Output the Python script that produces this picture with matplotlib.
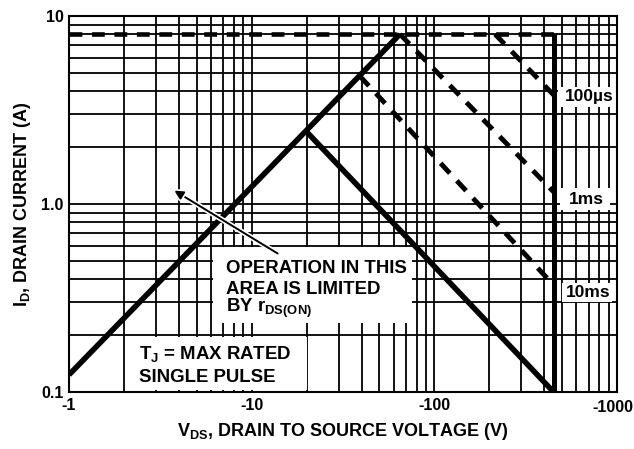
import matplotlib
matplotlib.use("Agg")
import matplotlib.pyplot as plt
import matplotlib.patheffects as pe
from matplotlib.patches import Rectangle

plt.rcParams["font.family"] = ["Liberation Sans", "DejaVu Sans"]
plt.rcParams["font.weight"] = "bold"
plt.rcParams["mathtext.fontset"] = "custom"
plt.rcParams["mathtext.rm"] = "Liberation Sans:bold"
plt.rcParams["mathtext.it"] = "Liberation Sans:bold"
plt.rcParams["mathtext.bf"] = "Liberation Sans:bold"
plt.rcParams["mathtext.default"] = "rm"

# safe operating area curves (|V_DS| in V, I_D in A)
v_rdson = [1.0, 64.8]
i_rdson = [0.1235, 8.0]

v_dc = [20.0, 450.0]
i_dc = [2.42, 0.1]

v_imax = [1.0, 450.0]
i_imax = [8.0, 8.0]

v_vmax = [450.0, 450.0]
i_vmax = [8.0, 0.1]

v_100us = [215.0, 450.0]
i_100us = [8.0, 3.8]

v_1ms = [64.8, 450.0]
i_1ms = [8.0, 1.16]

v_10ms = [39.0, 450.0]
i_10ms = [4.8, 0.37]

x_ticks = [1, 10, 100, 1000]
x_ticklabels = ["-1", "-10", "-100", "-1000"]
y_ticks = [0.1, 1, 10]
y_ticklabels = ["0.1", "1.0", "10"]

fig = plt.figure(figsize=(6.34, 4.49), dpi=100)
ax = fig.add_axes([0.1088, 0.1269, 0.8644, 0.8375])

ax.set_xscale("log")
ax.set_yscale("log")
ax.set_xlim(1, 1000)
ax.set_ylim(0.1, 10)

ax.grid(True, which="both", color="black", linewidth=1.3, zorder=1)
ax.set_axisbelow(True)
ax.tick_params(which="both", length=0)
ax.tick_params(axis="x", pad=4, labelsize=11.5)
ax.tick_params(axis="y", pad=4, labelsize=11.5)
ax.set_xticks(x_ticks)
# last label is drawn by hand so it stays inside the figure
ax.set_xticklabels(x_ticklabels[:-1] + [""], fontweight="bold")
ax.set_yticks(y_ticks)
ax.set_yticklabels(y_ticklabels, fontweight="bold")
ax.minorticks_on()
ax.tick_params(which="minor", length=0, labelbottom=False, labelleft=False)
for s in ax.spines.values():
    s.set_linewidth(1.5)
    s.set_zorder(6)

fig.text(633 / 634, 1 - 408 / 449, x_ticklabels[-1], fontsize=11.5, fontweight="bold",
         ha="right", va="center")

ax.set_xlabel("$\\mathrm{V_{DS}}$, DRAIN TO SOURCE VOLTAGE (V)", fontsize=13, fontweight="bold", labelpad=6)
ax.set_ylabel("$\\mathrm{I_D}$, DRAIN CURRENT (A)", fontsize=13, fontweight="bold", labelpad=6)

dash = (0, (2.8, 2.1))
ax.plot(v_imax, i_imax, color="black", lw=3.3, ls=dash, zorder=3)
ax.plot(v_100us, i_100us, color="black", lw=3.5, ls=dash, zorder=3)
ax.plot(v_1ms, i_1ms, color="black", lw=3.5, ls=dash, zorder=3)
ax.plot(v_10ms, i_10ms, color="black", lw=3.5, ls=dash, zorder=3)
ax.plot(v_rdson, i_rdson, color="black", lw=4.0, zorder=3, solid_capstyle="butt")
ax.plot(v_dc, i_dc, color="black", lw=4.0, zorder=3, solid_capstyle="butt")
ax.plot(v_vmax, i_vmax, color="black", lw=3.6, zorder=3, solid_capstyle="butt")


def px_box(x0, y0, x1, y1):
    # pixel box from the picture -> axes fraction
    fx0 = (x0 - 69) / 548
    fx1 = (x1 - 69) / 548
    fy0 = (392 - y1) / 376
    fy1 = (392 - y0) / 376
    r = Rectangle((fx0, fy0), fx1 - fx0, fy1 - fy0, transform=ax.transAxes,
                  facecolor="white", edgecolor="none", zorder=2)
    ax.add_patch(r)


def px_text(x, y, s, **kw):
    ax.text((x - 69) / 548, (392 - y) / 376, s, transform=ax.transAxes,
            fontweight="bold", zorder=5, **kw)


px_box(213, 247, 412, 323)
px_text(226, 273, "OPERATION IN THIS", fontsize=13.4, va="baseline")
px_text(226, 294, "AREA IS LIMITED", fontsize=13.4, va="baseline")
px_text(226, 312, "BY r$_\\mathrm{DS(ON)}$", fontsize=13.4, va="baseline")

px_box(127, 337, 307, 390)
px_text(139, 359, "T$_\\mathrm{J}$ = MAX RATED", fontsize=13.4, va="baseline")
px_text(139, 382, "SINGLE PULSE", fontsize=13.4, va="baseline")

px_box(558, 87, 617, 107)
px_text(589, 97, "100\u00b5s", fontsize=12.5, ha="center", va="center")
px_box(560, 188, 610, 210)
px_text(586, 199, "1ms", fontsize=12.5, ha="center", va="center")
px_box(562, 283, 612, 302)
px_text(588, 292, "10ms", fontsize=12.5, ha="center", va="center")

# arrow pointing into the r_DS(on) limited region
ax.annotate("", xy=(3.66, 1.2), xytext=(14.3, 0.536),
            arrowprops=dict(arrowstyle="-|>", color="black", lw=1.4,
                            mutation_scale=13,
                            path_effects=[pe.withStroke(linewidth=3.8, foreground="white")]),
            zorder=4)

plt.savefig("out.png", dpi=100)
